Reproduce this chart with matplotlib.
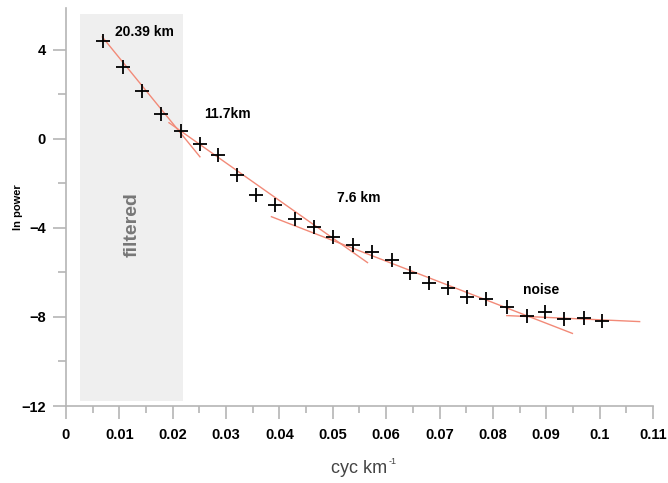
import matplotlib.pyplot as plt
from matplotlib.ticker import MultipleLocator, FixedLocator, FixedFormatter

plt.rcParams['font.family'] = ['Liberation Sans', 'DejaVu Sans']

# spectrum points (cyc/km, ln power)
freq = [0.0069, 0.0107, 0.0143, 0.0178, 0.0216, 0.0251, 0.0285, 0.0321, 0.0357,
        0.0392, 0.0430, 0.0465, 0.0501, 0.0537, 0.0574, 0.0610, 0.0645, 0.0681,
        0.0715, 0.0752, 0.0788, 0.0826, 0.0863, 0.0897, 0.0934, 0.0970, 0.1005]
power = [4.40, 3.24, 2.13, 1.12, 0.33, -0.22, -0.75, -1.62, -2.51,
         -2.96, -3.59, -3.95, -4.40, -4.76, -5.10, -5.46, -6.02, -6.49,
         -6.70, -7.10, -7.19, -7.55, -7.95, -7.78, -8.09, -8.04, -8.18]

# fitted segments: (x0, x1), (y0, y1)
fit_x = [(0.0068, 0.0251), (0.0193, 0.0565), (0.0385, 0.0949), (0.0826, 0.1075)]
fit_y = [(4.57, -0.81), (0.72, -5.56), (-3.50, -8.74), (-7.94, -8.21)]

labels = ["20.39 km", "11.7km", "7.6 km", "noise"]
label_x = [0.0092, 0.0259, 0.0507, 0.0857]
label_y = [4.80, 1.12, -2.65, -6.77]

filtered_band = (0.0026, 0.0220, -11.78, 5.62)

xticks = [0, 0.01, 0.02, 0.03, 0.04, 0.05, 0.06, 0.07, 0.08, 0.09, 0.1, 0.11]
xtick_labels = ["0", "0.01", "0.02", "0.03", "0.04", "0.05", "0.06", "0.07",
                "0.08", "0.09", "0.1", "0.11"]
yticks = [4, 0, -4, -8, -12]

fig = plt.figure(figsize=(6.68, 4.83), dpi=100)
ax = fig.add_axes([0.0988, 0.1594, 0.8787, 0.824])

# shaded filtered zone
x0, x1, y0, y1 = filtered_band
ax.fill_between([x0, x1], y0, y1, color='#efefef', lw=0, zorder=0)
ax.text((x0 + x1) / 2, -3.86, "filtered", rotation=90, ha='center', va='center',
        fontsize=14, fontweight='bold', color='#777777')

for fx, fy in zip(fit_x, fit_y):
    ax.plot(fx, fy, color='#f28a78', lw=1.0, zorder=2)

ax.plot(freq, power, ls='none', marker='+', ms=9.5, mew=1.3, color='black', zorder=3)

for t, tx, ty in zip(labels, label_x, label_y):
    ax.text(tx, ty, t, ha='left', va='center', fontsize=10, fontweight='bold')

ax.set_xlim(0, 0.11)
ax.set_ylim(-12, 5.87)

ax.xaxis.set_major_locator(FixedLocator(xticks))
ax.xaxis.set_major_formatter(FixedFormatter(xtick_labels))
ax.xaxis.set_minor_locator(MultipleLocator(0.005))
ax.yaxis.set_major_locator(FixedLocator(yticks))
ax.yaxis.set_minor_locator(MultipleLocator(2))

for s in ['top', 'right']:
    ax.spines[s].set_visible(False)
for s in ['left', 'bottom']:
    ax.spines[s].set_color('#b5b5b5')
    ax.spines[s].set_linewidth(1.2)

ax.tick_params(which='both', color='#b5b5b5', width=1.2)
ax.tick_params(axis='y', which='major', length=9.5, pad=5)
ax.tick_params(axis='y', which='minor', length=6)
ax.tick_params(axis='x', which='major', length=9, pad=7)
ax.tick_params(axis='x', which='minor', length=5)
for lab in ax.get_xticklabels() + ax.get_yticklabels():
    lab.set_fontweight('bold')
    lab.set_fontsize(10.5)

ax.set_ylabel("ln power", fontsize=8, fontweight='bold', labelpad=-1)
xl = ax.set_xlabel("cyc km", fontsize=13, color='#444444', labelpad=13)
ax.annotate("-1", xy=(1, 1), xycoords=xl, xytext=(0.5, 2.5), textcoords='offset points',
            ha='left', va='top', fontsize=6.5, color='#444444')

fig.savefig("out.png", dpi=100)
